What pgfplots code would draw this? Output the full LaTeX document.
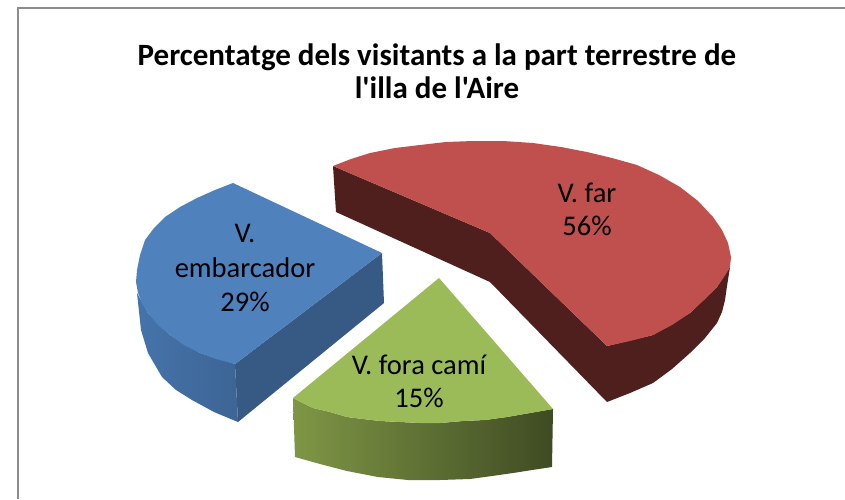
\documentclass[border=0pt]{standalone}
\usepackage{pgfplots}
\usepackage{fontspec}
\setmainfont{Carlito}
\newfontfamily\plainapos{Carlito}
\pgfplotsset{compat=1.18}
\definecolor{bluetop}{HTML}{4F81BD}
\definecolor{bluedark}{HTML}{375A85}
\definecolor{blueL}{HTML}{4573AA}
\definecolor{blueR}{HTML}{3D6595}
\definecolor{redtop}{HTML}{C0504D}
\definecolor{reddark}{HTML}{4F1F1E}
\definecolor{greentop}{HTML}{9BBB59}
\definecolor{greenL}{HTML}{7F9645}
\definecolor{greenR}{HTML}{3F4B23}
\definecolor{frame}{HTML}{8C8C8C}
\begin{document}
\begin{tikzpicture}
\begin{axis}[
  width=845pt,height=499pt,scale only axis,
  xmin=0,xmax=845,ymin=0,ymax=499,y dir=reverse,
  hide axis,clip=true]
\addplot[fill=white,draw=none] coordinates {(0,0)(845,0)(845,499)(0,499)(0,0)};
\addplot[draw=frame,line width=1.8pt] coordinates {(845,8)(18,8)(18,499)};
% blue sides
\addplot[fill=bluedark,draw=none] coordinates {(382,253)(235,364)(238,422)(384,303)(382,253)};
\addplot[left color=blueL,right color=blueR,draw=none] coordinates {
(137,293)(141,330)(148,353)(162,377)(176,390)(192,400)(214,412)(238,422)
(235,364)(200,353)(170,335)(148,313)(137,293)};
% blue top
\addplot[fill=bluetop,draw=none] coordinates {
(233,183)(382,253)(235,364)(216,359)(200,353)(184,345)(170,335)(158,325)(148,313)(142,303)(138,293)(136,282)(137,270)(140,255)(145,240)(154,228)(165,217)(180,207)(197,198)(215,190)(233,183)};
% green side
\addplot[left color=greenL,right color=greenR,draw=none] coordinates {
(293,398)(295,457)(320,464)(347,471)(378,477)(408,480)(440,480)(470,479)(492,476)(513,473)(532,470)(552,467)(553,409)
(530,413)(507,417)(485,420)(463,421)(440,423)(420,423)(400,422)(380,421)(363,419)(347,417)(330,412)(313,408)(293,398)};
% green top
\addplot[fill=greentop,draw=none] coordinates {
(439,278)(553,409)(530,413)(507,417)(485,420)(463,421)(440,423)(420,423)(400,422)(380,421)(363,419)(347,417)(330,412)(313,408)(293,398)(439,278)};
% red side
\addplot[fill=reddark,draw=none] coordinates {
(333,166)(336,212)(490,282)(607,402)(630,393)(653,383)(672,369)(690,353)(705,338)(717,323)(722,312)(725,300)(727,286)(730,267)
(717,287)(690,313)(653,335)(607,346)(490,233)(333,166)};
% red top
\addplot[fill=redtop,draw=none] coordinates {
(333,166)(351,159)(370,153)(395,148)(420,145)(446,142)(473,141)(503,141)(533,143)(561,147)(587,152)(612,158)(637,165)(659,175)(680,187)(698,201)(713,217)(722,230)(728,243)(731,257)(730,267)(724,277)(717,287)(704,300)(690,313)(672,325)(653,335)(630,341)(607,346)(490,233)(333,166)};
% texts
\node[font=\plainapos\fontsize{31}{33}\selectfont\bfseries,align=center] at (axis cs:437,71)
  {Percentatge dels visitants a la part terrestre de\\l'illa de l'Aire};
\node[font=\fontsize{28.5}{34.5}\selectfont,align=center] at (axis cs:245,268) {V.\\embarcador\\29\%};
\node[font=\fontsize{28.5}{33}\selectfont,align=center] at (axis cs:587,209) {V. far\\56\%};
\node[font=\fontsize{28.5}{33}\selectfont,align=center] at (axis cs:419,381) {V. fora camí\\15\%};
\end{axis}
\end{tikzpicture}
\end{document}
